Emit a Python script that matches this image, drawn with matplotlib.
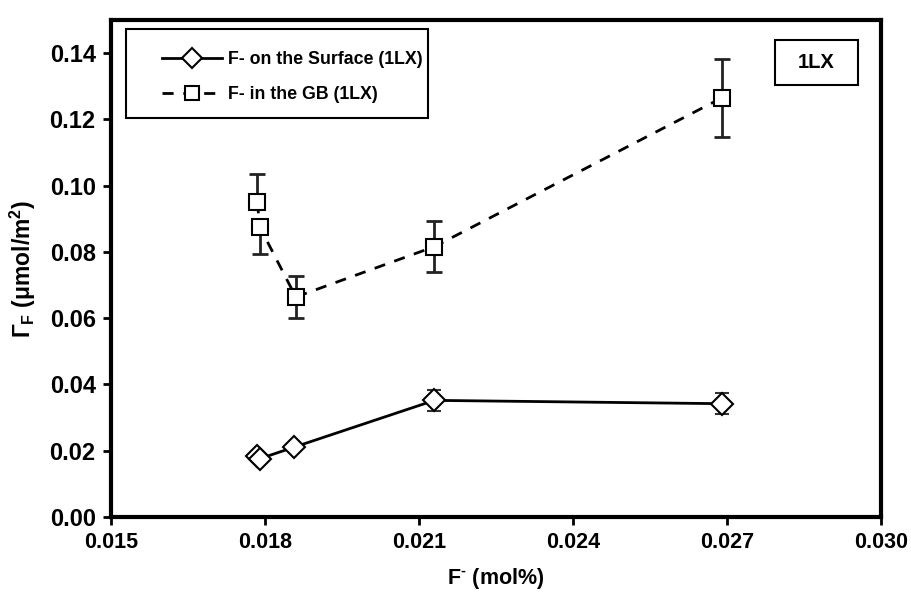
import matplotlib
matplotlib.use("Agg")
import matplotlib.pyplot as plt
from matplotlib.patches import Rectangle

plt.rcParams['font.family'] = ['Liberation Sans', 'DejaVu Sans']
plt.rcParams['font.weight'] = 'bold'
plt.rcParams['mathtext.fontset'] = 'custom'
plt.rcParams['mathtext.rm'] = 'Liberation Sans:bold'
plt.rcParams['mathtext.bf'] = 'Liberation Sans:bold'
plt.rcParams['mathtext.it'] = 'Liberation Sans:bold'

# Data
surf_x = [0.01785, 0.0179, 0.01857, 0.02130, 0.02690]
surf_y = [0.0185, 0.0176, 0.0211, 0.0352, 0.0342]
surf_err = [0.0008, 0.0008, 0.0008, 0.0032, 0.0031]

gb_x = [0.01785, 0.0179, 0.01860, 0.02130, 0.02690]
gb_y = [0.0950, 0.0875, 0.0664, 0.0816, 0.1265]
gb_err_lo = [0.0, 0.0081, 0.0062, 0.0076, 0.0118]
gb_err_hi = [0.0086, 0.0, 0.0062, 0.0076, 0.0118]

xticks = [0.015, 0.018, 0.021, 0.024, 0.027, 0.030]
yticks = [0.00, 0.02, 0.04, 0.06, 0.08, 0.10, 0.12, 0.14]

fig = plt.figure(figsize=(9.11, 5.95), dpi=100)
ax = fig.add_axes([111/911, 1 - 517/595, 770/911, 497/595])

ax.errorbar(surf_x, surf_y, yerr=surf_err, fmt='none', ecolor='#333333',
            elinewidth=1.5, capsize=5, capthick=1.5, zorder=1)
ax.errorbar(gb_x, gb_y, yerr=[gb_err_lo, gb_err_hi], fmt='none', ecolor='#222222',
            elinewidth=2, capsize=6, capthick=2, zorder=1)

ax.plot(surf_x, surf_y, '-', color='black', lw=2, marker='D', markersize=11.5,
        markerfacecolor='white', markeredgecolor='black', markeredgewidth=1.5,
        label='F- on the Surface (1LX)', zorder=3)
ax.plot(gb_x, gb_y, '--', color='black', lw=2, dashes=(4, 3.5), marker='s', markersize=11,
        markerfacecolor='white', markeredgecolor='black', markeredgewidth=1.5,
        label='F- in the GB (1LX)', zorder=3)

ax.set_xlim(0.015, 0.030)
ax.set_ylim(0, 0.15)
ax.set_xticks(xticks)
ax.set_xticklabels([f"{v:.3f}" for v in xticks])
ax.set_yticks(yticks)
ax.set_yticklabels([f"{v:.2f}" for v in yticks])
ax.tick_params(direction='out', length=6, width=2, pad=5)
ax.tick_params(axis='x', labelsize=15.5)
ax.tick_params(axis='y', labelsize=17)
for lab in ax.get_xticklabels() + ax.get_yticklabels():
    lab.set_fontweight('bold')
for sp in ax.spines.values():
    sp.set_linewidth(3)

ax.set_xlabel(r'F$^{\text{-}}$ (mol%)', fontsize=15.5, fontweight='bold', labelpad=9)
ax.set_ylabel(r'$\Gamma_{\mathrm{F}}$ ($\mu$mol/m$^{2}$)',
              fontsize=16.5, fontweight='bold', labelpad=8)

leg = ax.legend(loc='upper left', bbox_to_anchor=(0.0662, 0.9376), frameon=False,
                fontsize=12.8, handlelength=3.4, borderpad=0, borderaxespad=0,
                labelspacing=1.0, handletextpad=0.3, markerscale=0.9)
for t in leg.get_texts():
    t.set_fontweight('bold')
ax.add_patch(Rectangle((0.0195, 0.8028), 0.392, 0.179, transform=ax.transAxes,
                       facecolor='none', edgecolor='black', linewidth=1.5, zorder=4))

ax.add_patch(Rectangle((0.862, 0.869), 0.108, 0.091, transform=ax.transAxes,
                       facecolor='white', edgecolor='black', linewidth=1.5, zorder=4))
ax.text(0.916, 0.915, '1LX', transform=ax.transAxes, ha='center', va='center',
        fontsize=14.5, fontweight='bold', zorder=5)

fig.savefig('out.png', dpi=100)
